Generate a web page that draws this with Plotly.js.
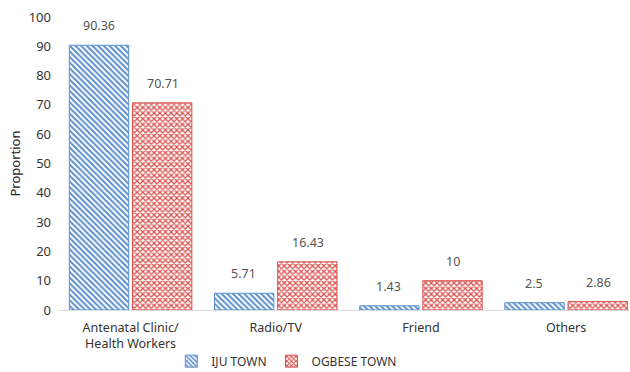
<!DOCTYPE html>
<html>
<head>
<meta charset="utf-8">
<script src="https://cdn.plot.ly/plotly-3.0.1.min.js"></script>
<style>html,body{margin:0;padding:0;background:#fff}#chart{width:630px;height:372px}</style>
</head>
<body>
<div id="chart"></div>
<script>
var categories = ["Antenatal Clinic/<br>Health Workers", "Radio/TV", "Friend", "Others"];
var ijuTown = [90.36, 5.71, 1.43, 2.5];
var ogbeseTown = [70.71, 16.43, 10, 2.86];
var seriesNames = ["IJU TOWN", "OGBESE TOWN"];

var blue = "#5b8fcb";
var red = "#d9534f";
var font = "Noto Sans, Open Sans, sans-serif";

var traces = [
  {
    type: "bar", name: seriesNames[0], x: categories, y: ijuTown,
    marker: {color: blue, line: {color: blue, width: 1},
      pattern: {shape: "\\", fgcolor: blue, bgcolor: "#ffffff", size: 4, solidity: 0.5, fillmode: "replace"}},
    hoverinfo: "y"
  },
  {
    type: "bar", name: seriesNames[1], x: categories, y: ogbeseTown,
    marker: {color: red, line: {color: red, width: 1},
      pattern: {shape: "x", fgcolor: red, bgcolor: "#ffffff", size: 4, solidity: 0.55, fillmode: "replace"}},
    hoverinfo: "y"
  }
];

var annotations = [];
[ijuTown, ogbeseTown].forEach(function (vals, s) {
  vals.forEach(function (v, i) {
    annotations.push({
      x: categories[i], y: v, xref: "x", yref: "y",
      text: String(v), showarrow: false,
      xshift: s === 0 ? -32 : 32, yshift: 9, yanchor: "bottom",
      font: {family: font, size: 12.5, color: "#555"}
    });
  });
});

var layout = {
  width: 630, height: 372,
  margin: {l: 58, r: 0, t: 17, b: 62, autoexpand: false},
  paper_bgcolor: "#fff", plot_bgcolor: "#fff",
  barmode: "group", bargap: 0.13, bargroupgap: 0.06,
  font: {family: font, size: 12.5, color: "#333"},
  xaxis: {
    range: [-0.5, 3.44], showgrid: false, zeroline: false,
    showline: true, linecolor: "#dcdcdc", linewidth: 1,
    ticks: "", ticklabelstandoff: 6, tickfont: {family: font, size: 12.5, color: "#333"}
  },
  yaxis: {
    range: [0, 100], dtick: 10, showgrid: false, zeroline: false, showline: false,
    ticks: "", ticklabelstandoff: 6,
    tickfont: {family: font, size: 13, color: "#333"},
    title: {text: "Proportion", font: {family: font, size: 13, color: "#222"}, standoff: 5}
  },
  legend: {
    orientation: "h", x: 0.4, xanchor: "center", y: -0.125, yanchor: "top",
    bgcolor: "rgba(0,0,0,0)",
    font: {family: font, size: 12, color: "#333"}, itemwidth: 30, tracegroupgap: 0
  },
  annotations: annotations
};

Plotly.newPlot("chart", traces, layout, {displayModeBar: false, staticPlot: true});
</script>
</body>
</html>
